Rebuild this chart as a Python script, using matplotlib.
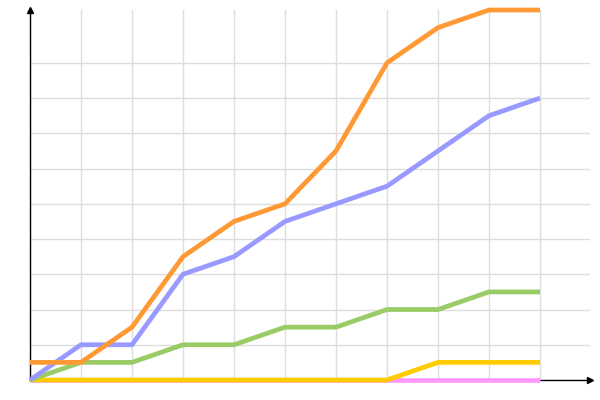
import numpy as np
import matplotlib
matplotlib.use("Agg")
import matplotlib.pyplot as plt

x = list(range(11))
orange = [1, 1, 3, 7, 9, 10, 13, 18, 20, 21, 21]
purple = [0, 2, 2, 6, 7, 9, 10, 11, 13, 15, 16]
green = [0, 1, 1, 2, 2, 3, 3, 4, 4, 5, 5]
yellow = [0, 0, 0, 0, 0, 0, 0, 0, 1, 1, 1]
pink = [0, 0, 0, 0, 0, 0, 0, 0, 0, 0, 0]

fig = plt.figure(figsize=(6, 4), dpi=100)
ax = fig.add_axes([30 / 600, 20 / 400, 560 / 600, 370 / 400])

lw = 3.4
series = [(pink, "#ff99ff"), (yellow, "#ffcc00"), (green, "#99cc66"),
          (purple, "#9999ff"), (orange, "#ff9933")]
for i, (ys, c) in enumerate(series):
    ax.plot(x, ys, color=c, lw=lw, zorder=3 + i, clip_on=False,
            solid_capstyle="butt")

ax.set_xlim(0, 560 / 51)
ax.set_ylim(0, 21)
ax.set_xticks(x)
ax.set_yticks(range(0, 19, 2))
ax.grid(True, color="#dddddd", lw=1, zorder=0)
ax.set_axisbelow(True)
ax.tick_params(left=False, bottom=False, labelleft=False, labelbottom=False)

for s in ["top", "right"]:
    ax.spines[s].set_visible(False)
for s in ["left", "bottom"]:
    ax.spines[s].set_linewidth(1)
    ax.spines[s].set_zorder(2)

# axis arrows
ax.plot(1, 0, ">k", ms=4, transform=ax.transAxes, clip_on=False, zorder=2)
ax.plot(0, 1, "^k", ms=4, transform=ax.transAxes, clip_on=False, zorder=2)

fig.savefig("out.png", dpi=100)
